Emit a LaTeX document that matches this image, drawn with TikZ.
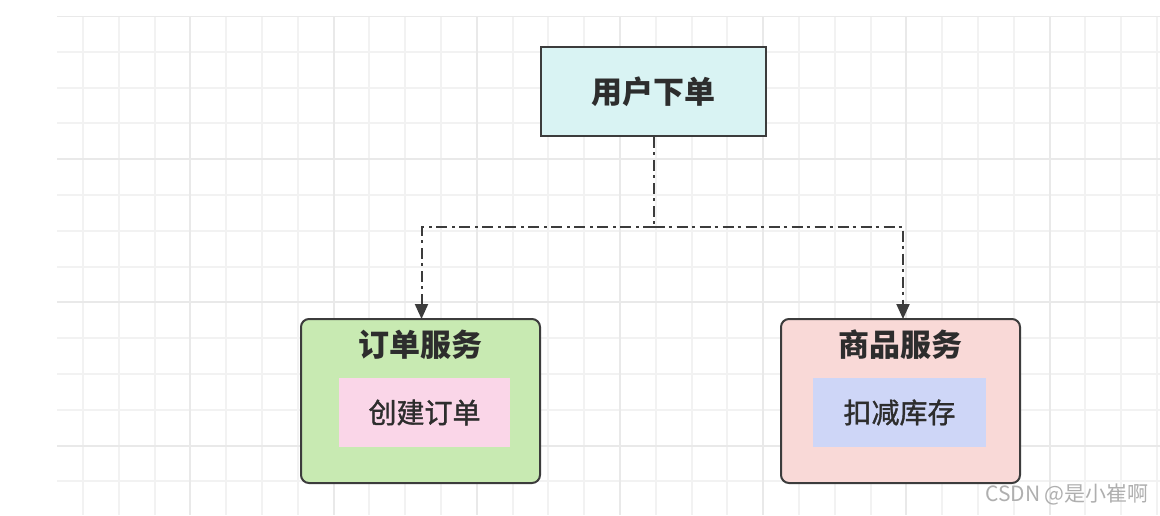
\documentclass[tikz,border=0pt]{standalone}
\usepackage{fontspec}
\setmainfont{Liberation Sans}
\newfontfamily\cjk{Noto Sans CJK SC}
\newfontfamily\cjkm[FakeBold=1.3]{Noto Sans CJK SC}
\usetikzlibrary{arrows.meta}
\definecolor{gridminor}{RGB}{242,242,242}
\definecolor{gridmajor}{RGB}{233,233,233}
\definecolor{edgec}{RGB}{60,60,60}
\definecolor{txtc}{RGB}{45,45,45}
\definecolor{topfill}{RGB}{217,243,243}
\definecolor{greenfill}{RGB}{200,234,178}
\definecolor{pinkfill}{RGB}{250,214,232}
\definecolor{redfill}{RGB}{249,217,215}
\definecolor{bluefill}{RGB}{206,214,247}
\definecolor{wm}{RGB}{175,175,175}
\tikzset{
  topbox/.style={draw=edgec, line width=1pt, fill=topfill, minimum width=112.5pt, minimum height=44.5pt, inner sep=0pt, font=\cjk\bfseries\fontsize{15.5}{18}\selectfont, text=txtc},
  svcbox/.style={draw=edgec, line width=1pt, rounded corners=4pt, minimum width=119.5pt, minimum height=82pt, inner sep=0pt},
  svctitle/.style={font=\cjk\bfseries\fontsize{15.5}{18}\selectfont, text=txtc, inner sep=0pt},
  innerbox/.style={minimum height=34.5pt, inner sep=0pt, font=\cjkm\fontsize{14}{16}\selectfont, text=txtc},
  conn/.style={draw=edgec, line width=1pt, dash pattern=on 5.5pt off 2pt on 1.5pt off 2.5pt, -{Triangle[width=6.5pt,length=7.5pt]}},
  connplain/.style={draw=edgec, line width=1pt, dash pattern=on 5.5pt off 2pt on 1.5pt off 2.5pt}
}
\begin{document}
\begin{tikzpicture}[x=0.5pt,y=-0.5pt]
\useasboundingbox[fill=white] (0,0) rectangle (1160,515);
% grid
\begin{scope}
\clip (57,16) rectangle (1160,515);
\foreach \i in {0,...,31} {
  \pgfmathsetmacro{\gx}{47.2+35.8*\i}
  \draw[gridminor, line width=1pt] (\gx,16) -- (\gx,515);
}
\foreach \i in {0,...,14} {
  \pgfmathsetmacro{\gy}{16+35.8*\i}
  \draw[gridminor, line width=1pt] (57,\gy) -- (1160,\gy);
}
\foreach \i in {0,...,7} {
  \pgfmathsetmacro{\gx}{190.4+143.2*\i}
  \draw[gridmajor, line width=1pt] (\gx,16) -- (\gx,515);
}
\foreach \i in {0,...,3} {
  \pgfmathsetmacro{\gy}{16+143.2*\i}
  \draw[gridmajor, line width=1pt] (57,\gy) -- (1160,\gy);
}
\end{scope}
% nodes
\node[topbox] (top) at (653.5,91.5) {用户下单};
\node[svcbox, fill=greenfill] (left) at (420.5,401) {};
\node[svcbox, fill=redfill] (right) at (900.5,401) {};
\node[svctitle] (lt) at (420.5,345) {订单服务};
\node[svctitle] (rt) at (900.5,345) {商品服务};
\node[innerbox, fill=pinkfill, minimum width=85.5pt] (li) at (424.5,412.5) {创建订单};
\node[innerbox, fill=bluefill, minimum width=86.5pt] (ri) at (899.5,412.5) {扣减库存};
% connectors
\coordinate (j) at (653.5,227);
\coordinate (lc) at (421.5,227);
\coordinate (rc) at (903,227);
\coordinate (la) at (421.5,319);
\coordinate (ra) at (903,319);
\draw[connplain] (top.south) -- (j);
\draw[conn] (j) -- (lc) -- (la);
\draw[conn] (j) -- (rc) -- (ra);
% watermark
\node[text=wm, font=\cjk\fontsize{10.5}{12}\selectfont, inner sep=0pt] (wmk) at (1067,494) {CSDN @是小崔啊};
\end{tikzpicture}
\end{document}
